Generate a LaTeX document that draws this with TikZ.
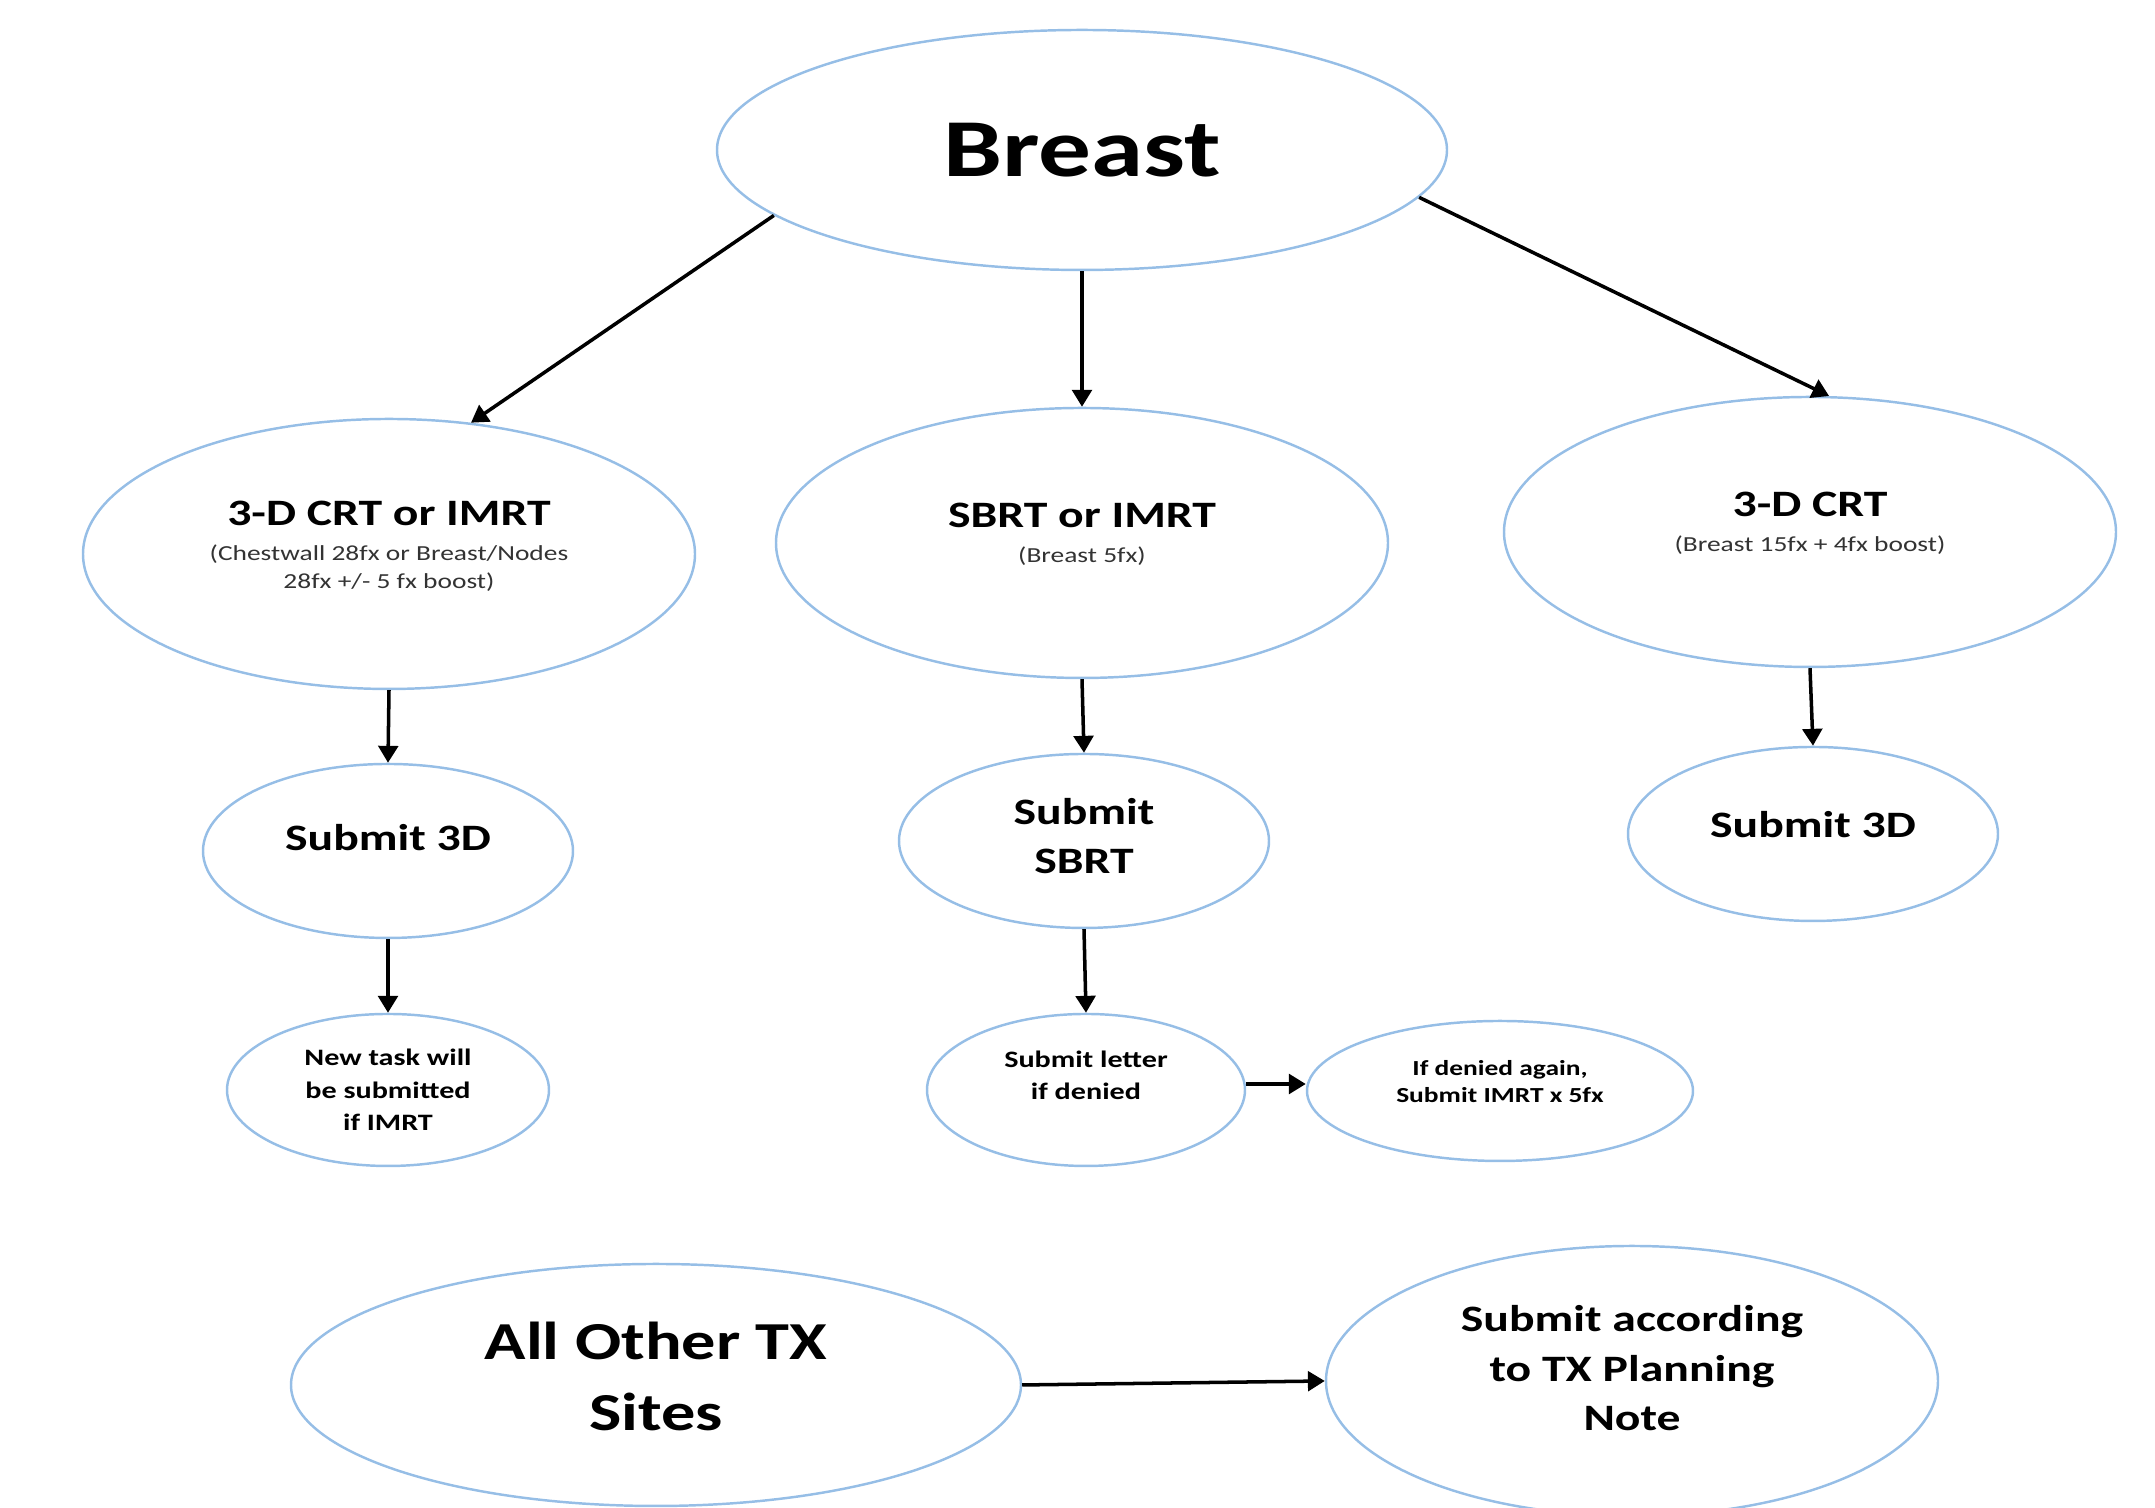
\documentclass[tikz,border=0pt]{standalone}
\usepackage{fontspec}
\setmainfont{Carlito}[FakeStretch=1.28]
\usetikzlibrary{shapes.geometric,arrows.meta}

\newcommand{\headfont}{\bfseries\fontsize{10.6}{11}\selectfont\color{black}}

\begin{document}
\begin{tikzpicture}[
  oval/.style={ellipse,draw=ovalblue,line width=0.7pt,inner sep=0pt,align=center},
  bigoval/.style={oval,minimum width=6.12cm,minimum height=2.70cm},
  midoval/.style={oval,minimum width=3.70cm,minimum height=1.74cm},
  flow/.style={-{Triangle[length=4.8pt,width=5.6pt]},line width=1pt},
  hugetext/.style={font=\bfseries\fontsize{23.4}{25}\selectfont},
  notetext/.style={font=\mdseries\fontsize{6.1}{8}\selectfont,text=black!80},
  steptext/.style={font=\bfseries\fontsize{10.6}{14.1}\selectfont},
  smalltext/.style={font=\bfseries\fontsize{6.7}{9.2}\selectfont}
]
% Define colours
\definecolor{ovalblue}{RGB}{150,190,230}

% Page frame
\useasboundingbox (0,0) rectangle (21.55,15.08);
\clip (0,0) rectangle (21.55,15.08);

% Top level
\node[oval,hugetext,minimum width=7.30cm,minimum height=2.40cm] (breast) at (10.82,13.58) {Breast};

% Treatment options
\node[bigoval,notetext,text depth=5pt] (crtimrt) at (3.89,9.54) {\headfont 3-D CRT or IMRT\\[1.9pt](Chestwall 28fx or Breast/Nodes\\28fx +/- 5 fx boost)};
\node[bigoval,notetext,text depth=5.6pt] (sbrtimrt) at (10.82,9.65) {\headfont SBRT or IMRT\\[1.9pt](Breast 5fx)};
\node[bigoval,notetext,text depth=6pt] (crt) at (18.10,9.76) {\headfont 3-D CRT\\[1.9pt](Breast 15fx + 4fx boost)};

% Submissions
\node[midoval,steptext,text depth=7.8pt] (subleft) at (3.88,6.57) {Submit 3D};
\node[midoval,steptext,text depth=2.8pt] (subsbrt) at (10.84,6.67) {Submit\\SBRT};
\node[midoval,steptext,text depth=5.5pt] (subright) at (18.13,6.74) {Submit 3D};

% Follow up
\node[oval,smalltext,minimum width=3.22cm,minimum height=1.52cm] (newtask) at (3.88,4.18) {New task will\\be submitted\\if IMRT};
\node[oval,smalltext,text depth=8.2pt,minimum width=3.18cm,minimum height=1.52cm] (letter) at (10.86,4.18) {Submit letter\\if denied};
\node[oval,font=\bfseries\fontsize{6.1}{7.8}\selectfont,text depth=5.5pt,minimum width=3.86cm,minimum height=1.40cm] (denied) at (15.00,4.17) {If denied again,\\Submit IMRT x 5fx};

% Other sites
\node[oval,font=\bfseries\fontsize{15.2}{20.2}\selectfont,text depth=5pt,minimum width=7.30cm,minimum height=2.42cm] (other) at (6.56,1.23) {All Other TX\\Sites};
\node[bigoval,steptext,text depth=7.4pt] (accord) at (16.32,1.27) {Submit according\\to TX Planning\\Note};

% Arrows
\draw[flow] (breast.192) -- (crtimrt.58);
\draw[flow] (breast.south) -- (sbrtimrt.north);
\draw[flow] (breast.352.5) -- (crt.82);
\draw[flow] (crtimrt.south) -- (subleft.north);
\draw[flow] (sbrtimrt.south) -- (subsbrt.north);
\draw[flow] (crt.south) -- (subright.north);
\draw[flow] (subleft.south) -- (newtask.north);
\draw[flow] (subsbrt.south) -- (letter.north);
\draw[flow] ([yshift=1.7pt]letter.east) -- ([yshift=1.7pt]letter.east -| denied.west);
\draw[flow] (other.east) -- (accord.west);
\end{tikzpicture}
\end{document}
